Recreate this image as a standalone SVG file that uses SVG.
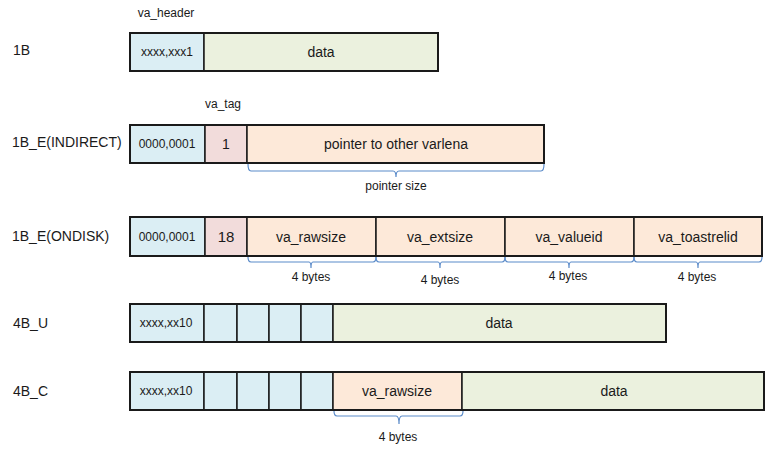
<svg xmlns="http://www.w3.org/2000/svg" width="767" height="453" viewBox="0 0 767 453">
<defs>
<style>
text{font-family:"Liberation Sans",Arial,sans-serif;fill:#1a1a1a;}
.lbl{font-size:14px;}
.cap{font-size:12px;text-anchor:middle;}
.hdr{font-size:12px;text-anchor:middle;}
.fld{font-size:14px;text-anchor:middle;}
.sz{font-size:12px;text-anchor:middle;}
.blue{fill:#DBEEF4;stroke:#1a1a1a;stroke-width:1.5;}
.pink{fill:#F2DCDB;stroke:#1a1a1a;stroke-width:1.5;}
.peach{fill:#FDE9D9;stroke:#1a1a1a;stroke-width:1.5;}
.green{fill:#EBF1DE;stroke:#1a1a1a;stroke-width:1.5;}
.outer{fill:none;stroke:#1a1a1a;stroke-width:2;}
.brace{fill:none;stroke:#5B8BC9;stroke-width:1.2;}
</style>
</defs>
<rect width="767" height="453" fill="#ffffff"/>

<g id="row-1B">
<text class="lbl" x="13" y="55">1B</text>
<text class="cap" x="166" y="17">va_header</text>
<rect class="blue" x="130" y="33" width="74" height="38"/>
<rect class="green" x="204" y="33" width="234" height="38"/>
<rect class="outer" x="130" y="33" width="308" height="38"/>
<text class="hdr" x="167" y="56">xxxx,xxx1</text>
<text class="fld" x="321" y="57">data</text>
</g>

<g id="row-1B_E_INDIRECT">
<text class="lbl" x="12" y="147">1B_E(INDIRECT)</text>
<text class="cap" x="223" y="108">va_tag</text>
<rect class="blue" x="130" y="125" width="75" height="38"/>
<rect class="pink" x="205" y="125" width="42" height="38"/>
<rect class="peach" x="247" y="125" width="297" height="38"/>
<rect class="outer" x="130" y="125" width="414" height="38"/>
<text class="hdr" x="167" y="148">0000,0001</text>
<text class="fld" x="226" y="149">1</text>
<text class="fld" x="396" y="149">pointer to other varlena</text>
<text class="sz" x="396" y="190">pointer size</text>
</g>

<g id="row-1B_E_ONDISK">
<text class="lbl" x="12" y="241">1B_E(ONDISK)</text>
<rect class="blue" x="130" y="217" width="75" height="39"/>
<rect class="pink" x="205" y="217" width="42" height="39"/>
<rect class="peach" x="247" y="217" width="129" height="39"/>
<rect class="peach" x="376" y="217" width="129" height="39"/>
<rect class="peach" x="505" y="217" width="129" height="39"/>
<rect class="peach" x="634" y="217" width="128" height="39"/>
<rect class="outer" x="130" y="217" width="632" height="39"/>
<text class="hdr" x="167" y="241">0000,0001</text>
<text class="fld" x="226" y="242" style="font-size:15px">18</text>
<text class="fld" x="311" y="242">va_rawsize</text>
<text class="fld" x="440" y="242">va_extsize</text>
<text class="fld" x="569" y="242">va_valueid</text>
<text class="fld" x="698" y="242">va_toastrelid</text>
<text class="sz" x="311" y="281">4 bytes</text>
<text class="sz" x="440" y="284">4 bytes</text>
<text class="sz" x="568" y="280">4 bytes</text>
<text class="sz" x="697" y="281">4 bytes</text>
</g>

<g id="row-4B_U">
<text class="lbl" x="13" y="328">4B_U</text>
<rect class="blue" x="130" y="304" width="74" height="38"/>
<rect class="blue" x="204" y="304" width="33" height="38"/>
<rect class="blue" x="237" y="304" width="32" height="38"/>
<rect class="blue" x="269" y="304" width="32" height="38"/>
<rect class="blue" x="301" y="304" width="32" height="38"/>
<rect class="green" x="333" y="304" width="333" height="38"/>
<rect class="outer" x="130" y="304" width="536" height="38"/>
<text class="hdr" x="166" y="327">xxxx,xx10</text>
<text class="fld" x="499" y="328">data</text>
</g>

<g id="row-4B_C">
<text class="lbl" x="13" y="396">4B_C</text>
<rect class="blue" x="130" y="372" width="74" height="38"/>
<rect class="blue" x="204" y="372" width="33" height="38"/>
<rect class="blue" x="237" y="372" width="32" height="38"/>
<rect class="blue" x="269" y="372" width="32" height="38"/>
<rect class="blue" x="301" y="372" width="32" height="38"/>
<rect class="peach" x="333" y="372" width="129" height="38"/>
<rect class="green" x="462" y="372" width="302" height="38"/>
<rect class="outer" x="130" y="372" width="634" height="38"/>
<text class="hdr" x="166" y="395">xxxx,xx10</text>
<text class="fld" x="397" y="396">va_rawsize</text>
<text class="fld" x="614" y="396">data</text>
<text class="sz" x="398" y="441">4 bytes</text>
</g>

<g id="connectors">
<path class="brace" d="M248,164 Q248,171 251,171 L393,171 Q396,171 396,177 Q396,171 399,171 L541,171 Q544,171 544,164"/>
<path class="brace" d="M248,257 Q248,262 251,262 L309,262 Q311,262 311,268 Q311,262 313,262 L373,262 Q376,262 376,257"/>
<path class="brace" d="M376,257 Q376,262 379,262 L438,262 Q440,262 440,268 Q440,262 442,262 L502,262 Q505,262 505,257"/>
<path class="brace" d="M505,257 Q505,262 508,262 L567,262 Q569,262 569,268 Q569,262 571,262 L631,262 Q634,262 634,257"/>
<path class="brace" d="M634,257 Q634,262 637,262 L696,262 Q698,262 698,268 Q698,262 700,262 L759,262 Q762,262 762,257"/>
<path class="brace" d="M334,411 Q334,416 337,416 L396,416 Q399,416 399,424 Q399,416 402,416 L460,416 Q463,416 463,411"/>
</g>
</svg>
